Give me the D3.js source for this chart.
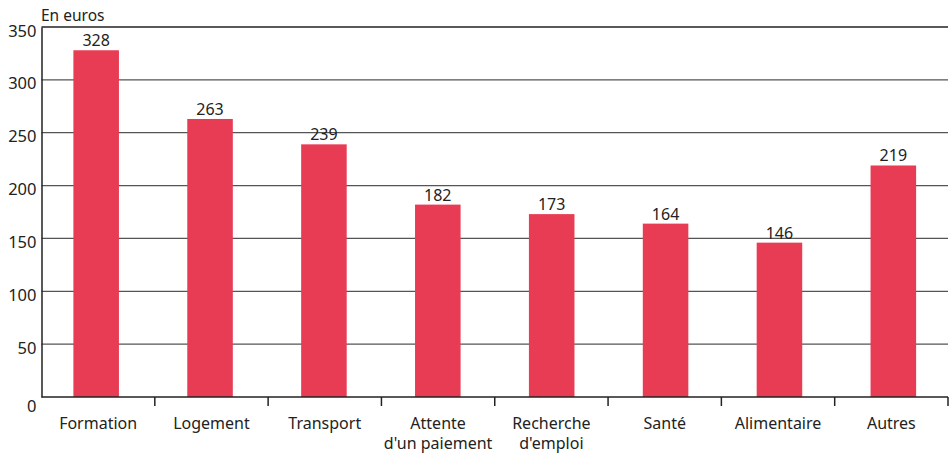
<!DOCTYPE html>
<html><head><meta charset="utf-8">
<script src="https://cdn.jsdelivr.net/npm/d3@7"></script>
<style>body{margin:0;background:#fff;} text{font-family:"Noto Sans",sans-serif;}</style>
</head><body>
<svg id="c" width="951" height="453"></svg>
<script>
const categories = ["Formation","Logement","Transport","Attente\nd'un paiement","Recherche\nd'emploi","Santé","Alimentaire","Autres"];
const values = [328,263,239,182,173,164,146,219];
const yTicks = [0,50,100,150,200,250,300,350];

const FONT = "'Noto Sans',sans-serif";
const svg = d3.select("#c");
const m = {l:41.5, r:3, t:27, b:56};
const W = 951, H = 453;
const x = d3.scaleBand().domain(categories).range([m.l, W-m.r]).paddingInner(0.6).paddingOuter(0.28);
const y = d3.scaleLinear().domain([0,350]).range([H-m.b, m.t]);

// gridlines
svg.append("g").selectAll("line").data(yTicks.filter(d=>d>0)).join("line")
  .attr("x1", m.l).attr("x2", W-m.r).attr("y1", d=>y(d)).attr("y2", d=>y(d))
  .attr("stroke", d=> d===350 ? "#222" : "#555").attr("stroke-width", 1.3);

// bars
svg.append("g").selectAll("rect").data(values).join("rect")
  .attr("x", (d,i)=>x(categories[i])).attr("width", x.bandwidth())
  .attr("y", d=>y(d)).attr("height", d=>y(0)-y(d)).attr("fill", "#e83c55");

// value labels
svg.append("g").selectAll("text").data(values).join("text")
  .attr("x", (d,i)=>x(categories[i])+x.bandwidth()/2).attr("y", d=>y(d)-4)
  .attr("text-anchor","middle").attr("font-size", 16).attr("fill","#222").text(d=>d);

// y axis
const ya = svg.append("g").attr("transform", `translate(${m.l},0)`)
  .call(d3.axisLeft(y).tickValues(yTicks).tickSize(0).tickPadding(5));
ya.select(".domain").attr("stroke","#222").attr("stroke-width",1.5);
ya.selectAll("text").attr("font-size",16.5).attr("fill","#222").attr("font-family",FONT)
  .attr("dy", d => d===0 ? "0.85em" : "0.55em");

// x axis
const xOuter = d3.scaleBand().domain(categories).range([m.l, W-m.r]);
const xa = svg.append("g").attr("transform", `translate(0,${y(0)})`);
xa.append("line").attr("x1", m.l).attr("x2", W-m.r).attr("stroke","#222").attr("stroke-width",1.5);
xa.selectAll("line.t").data(categories.slice(1)).join("line").attr("class","t")
  .attr("x1", d=>xOuter(d)).attr("x2", d=>xOuter(d)).attr("y1",0).attr("y2",9)
  .attr("stroke","#222").attr("stroke-width",1.5);
xa.append("line").attr("x1", W-m.r).attr("x2", W-m.r).attr("y1",0).attr("y2",9).attr("stroke","#222").attr("stroke-width",1.5);
const lines = [];
categories.forEach(c => c.split("\n").forEach((s,i)=>lines.push({c, s, i})));
xa.selectAll("text").data(lines).join("text")
  .attr("x", d=>xOuter(d.c)+xOuter.bandwidth()/2).attr("y", d=>32 + d.i*20)
  .attr("text-anchor","middle").attr("font-size",16).attr("fill","#222").text(d=>d.s);

svg.append("text").attr("x", 41).attr("y", 21).attr("font-size",15.5).attr("fill","#222").text("En euros");
</script>
</body></html>
